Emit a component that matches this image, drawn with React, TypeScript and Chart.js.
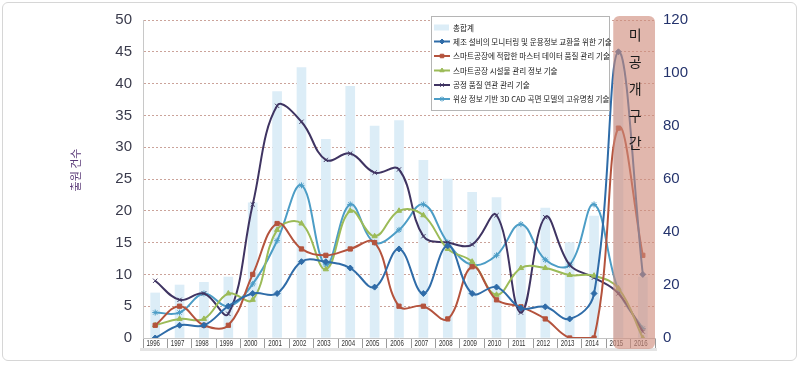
import React, { useEffect, useRef } from "react";
import { Chart, registerables } from "chart.js";
import { drawPoint } from "chart.js/helpers";

Chart.register(...registerables);

// ---------- data ----------
const years = ["1996","1997","1998","1999","2000","2001","2002","2003","2004","2005","2006","2007","2008","2009","2010","2011","2012","2013","2014","2015","2016"];
const totalCounts = [17, 20, 21, 23, 51, 93, 102, 75, 95, 80, 82, 67, 60, 55, 53, 42, 49, 36, 46, 107, 23];
const monitoringTech = [0, 2, 2, 5, 7, 7, 12, 12, 11, 8, 14, 7, 14.5, 7, 8, 4.7, 4.9, 3, 7, 45, 10];
const masterDataTech = [2, 5, 2, 2, 10, 18, 14, 13, 14, 15, 5, 5, 3, 11.2, 6, 4.9, 3, 0, 0, 33, 13];
const facilityTech = [2, 3, 3, 7, 6, 17, 18, 10.8, 20, 16, 20, 19.3, 14, 12, 6.8, 11, 11, 9.9, 9.8, 7.8, 0];
const qualityTech = [9, 6, 7, 3.8, 21, 36.5, 34, 28, 29, 26, 26.5, 16, 15, 14.7, 19.3, 4, 19, 11.5, 9.5, 7, 1];
const cadTech = [4, 4, 7, 5, 8.5, 15.3, 24, 11.5, 21, 15, 17, 21, 15, 11.5, 13, 17.9, 12.3, 11.5, 21, 7.5, 1.5];

const seriesNames = [
  "총합계",
  "제조 설비의 모니터링 및 운용정보 교환을 위한 기술",
  "스마트공장에 적합한 마스터 데이터 품질 관리 기술",
  "스마트공장 시설물 관리 정보 기술",
  "공정 품질 연관 관리 기술",
  "위상 정보 기반 3D CAD 곡면 모델의 고유명칭 기술",
];
const leftTicks = [0, 5, 10, 15, 20, 25, 30, 35, 40, 45, 50];
const rightTicks = [0, 20, 40, 60, 80, 100, 120];
const yTitle = "출원 건수";
const shadeYears = ["2015", "2016"];
const shadeLabel = ["미", "공", "개", "구", "간"];

// ---------- styles ----------
const barColor = "#dcedf7";
const lineColors = ["#2f6ca8", "#b4533d", "#9cbb58", "#3f3462", "#4c9dc6"];
const pointStyles: any[] = ["rectRot", "rect", "triangle", "crossRot", "star"];
const sansFont = '"Liberation Sans", Arial, sans-serif';
const krFont = '"Noto Sans CJK KR", "Noto Sans", sans-serif';

const decorPlugin = {
  id: "decor",
  afterDatasetsDraw(chart: any) {
    const ctx = chart.ctx;
    const xs = chart.scales.x;
    const area = chart.chartArea;
    ctx.save();
    // bottom band
    ctx.fillStyle = "#e4e4e4";
    ctx.fillRect(area.left - 3, area.bottom + 10, area.right - area.left + 5, 3);
    // x labels (condensed)
    ctx.font = "9px " + sansFont;
    ctx.fillStyle = "#333333";
    ctx.textAlign = "center";
    ctx.textBaseline = "middle";
    years.forEach((yr, i) => {
      const px = xs.getPixelForValue(i);
      ctx.save();
      ctx.translate(px - 2, area.bottom + 6);
      ctx.scale(0.68, 1);
      ctx.fillText(yr, 0, 0);
      ctx.restore();
    });
    // shaded undisclosed period
    const i0 = years.indexOf(shadeYears[0]);
    const i1 = years.indexOf(shadeYears[1]);
    const half = (xs.getPixelForValue(1) - xs.getPixelForValue(0)) / 2;
    const left = xs.getPixelForValue(i0) - half + 7;
    const right = xs.getPixelForValue(i1) + half;
    const top = area.top - 4;
    const bottom = area.bottom + 11;
    ctx.globalAlpha = 0.62;
    ctx.fillStyle = "rgb(206,138,122)";
    ctx.beginPath();
    (ctx as any).roundRect(left, top, right - left, bottom - top, 6);
    ctx.fill();
    ctx.globalAlpha = 1;
    ctx.fillStyle = "#1a1a1a";
    ctx.font = "14px " + krFont;
    ctx.textAlign = "center";
    ctx.textBaseline = "middle";
    const cx = (left + right) / 2 + 1;
    shadeLabel.forEach((ch, k) => {
      ctx.fillText(ch, cx, area.top + 15 + k * 27);
    });
    ctx.restore();
  },
  afterDraw(chart: any) {
    const ctx = chart.ctx;
    ctx.save();
    // y title
    ctx.translate(76, 170);
    ctx.rotate(-Math.PI / 2);
    ctx.font = "11px " + krFont;
    ctx.fillStyle = "#5a3a78";
    ctx.textAlign = "center";
    ctx.textBaseline = "middle";
    ctx.fillText(yTitle, 0, 0);
    ctx.restore();

    // legend
    ctx.save();
    const lx = 431.5, ly = 16.5, lw = 178, lh = 94;
    ctx.fillStyle = "#ffffff";
    ctx.fillRect(lx, ly, lw, lh);
    ctx.strokeStyle = "#b5b5b5";
    ctx.lineWidth = 1;
    ctx.strokeRect(lx, ly, lw, lh);
    const rows = [27.5, 41.5, 56, 70.5, 85, 99];
    ctx.font = "7.6px " + krFont;
    ctx.textBaseline = "middle";
    ctx.textAlign = "left";
    seriesNames.forEach((name, k) => {
      const y = rows[k];
      if (k === 0) {
        ctx.fillStyle = barColor;
        ctx.fillRect(434, y - 3, 15, 6);
      } else {
        const c = lineColors[k - 1];
        ctx.strokeStyle = c;
        ctx.lineWidth = 2;
        ctx.beginPath();
        ctx.moveTo(434, y);
        ctx.lineTo(450, y);
        ctx.stroke();
        ctx.fillStyle = c;
        ctx.lineWidth = 1;
        drawPoint(ctx, { pointStyle: pointStyles[k - 1], radius: 2.5, rotation: 0, borderWidth: 1 } as any, 442, y);
      }
      ctx.fillStyle = "#1a1a1a";
      ctx.fillText(name, 453, y + 0.5);
    });
    ctx.restore();
  },
};

export default function App() {
  const ref = useRef<HTMLCanvasElement | null>(null);
  useEffect(() => {
    if (!ref.current) return;
    const lineData = [monitoringTech, masterDataTech, facilityTech, qualityTech, cadTech];
    const datasets: any[] = [
      {
        type: "bar",
        label: seriesNames[0],
        data: totalCounts,
        yAxisID: "y1",
        backgroundColor: barColor,
        barThickness: 9,
        order: 10,
      },
    ];
    lineData.forEach((d, k) => {
      datasets.push({
        type: "line",
        label: seriesNames[k + 1],
        data: d,
        yAxisID: "y",
        borderColor: lineColors[k],
        backgroundColor: lineColors[k],
        borderWidth: 2,
        tension: 0.4,
        pointStyle: pointStyles[k],
        pointRadius: 3,
        pointBorderWidth: 1,
        fill: false,
        order: 1 + k,
      });
    });
    const chart = new Chart(ref.current, {
      type: "bar",
      data: { labels: years, datasets },
      options: {
        responsive: false,
        animation: false,
        layout: { padding: { left: 0, right: 0, top: 20, bottom: 0 } },
        plugins: { legend: { display: false }, tooltip: { enabled: false } },
        scales: {
          x: {
            offset: true,
            grid: { offset: true, drawOnChartArea: false, drawTicks: true, tickLength: 10, color: "#9a9a9a" },
            border: { display: true, color: "#c4c4c4" },
            ticks: { display: false },
            afterFit: (s: any) => { s.height = 27; },
          },
          y: {
            position: "left",
            min: 0,
            max: 50,
            afterBuildTicks: (s: any) => { s.ticks = leftTicks.map((v) => ({ value: v })); },
            ticks: { padding: 11, color: "#3a3b4c", font: { size: 15, family: sansFont } },
            grid: {
              drawTicks: false,
              lineWidth: 1,
              color: (c: any) => (c.tick && c.tick.value === 0 ? "rgba(0,0,0,0)" : "#cba39a"),
            },
            border: { display: true, color: "#c8c8c8", dash: [2, 2] },
            afterFit: (s: any) => { s.width = 143; },
          },
          y1: {
            position: "right",
            min: 0,
            max: 120,
            afterBuildTicks: (s: any) => { s.ticks = rightTicks.map((v) => ({ value: v })); },
            ticks: { padding: 8, color: "#24336c", font: { size: 15, family: sansFont } },
            grid: { drawOnChartArea: false, drawTicks: false },
            border: { display: false },
            afterFit: (s: any) => { s.width = 144; },
          },
        },
      } as any,
      plugins: [decorPlugin],
    });
    return () => chart.destroy();
  }, []);

  return (
    <div style={{ position: "fixed", left: 0, top: 0, width: 799, height: 365, background: "#fff" }}>
      <canvas ref={ref} width={799} height={365} style={{ display: "block", width: 799, height: 365 }} />
      <div
        style={{
          position: "absolute",
          left: 2,
          top: 2,
          width: 793,
          height: 357,
          border: "1px solid #d6d6d6",
          borderRadius: 6,
          pointerEvents: "none",
        }}
      />
    </div>
  );
}
